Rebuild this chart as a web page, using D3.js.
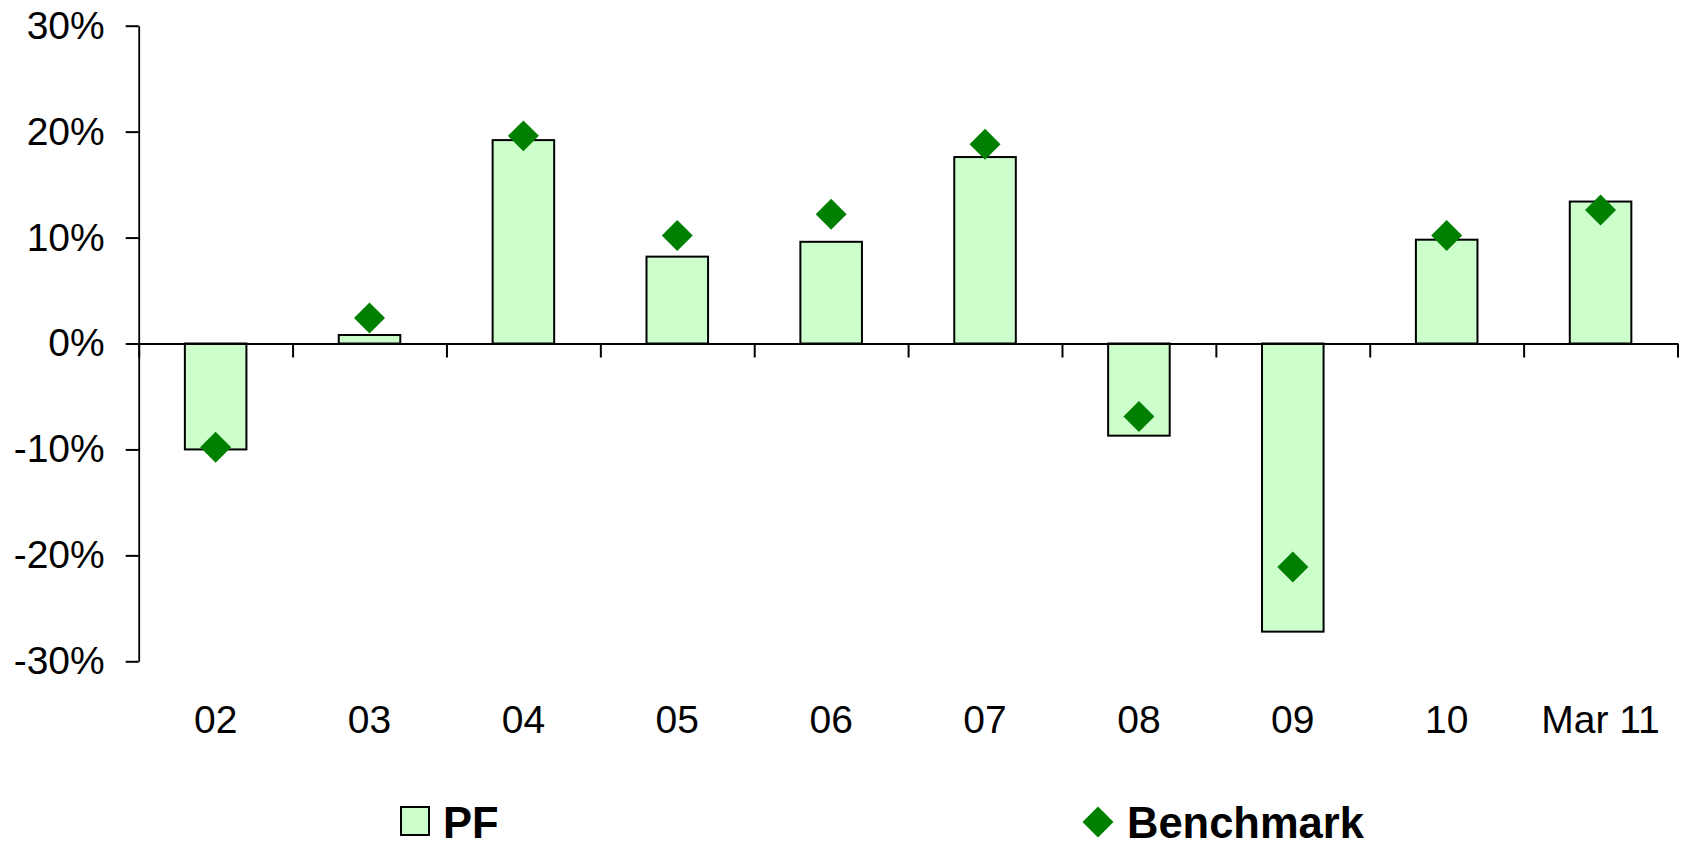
<!DOCTYPE html>
<meta charset="utf-8">
<script src="https://d3js.org/d3.v7.min.js"></script>
<style>
  body { margin: 0; background: #fff; }
  text { font-family: Arial, "Liberation Sans", sans-serif; fill: #000; }
</style>
<body>
<div id="chart"></div>
<script>
// data (percent)
var categories = ["02", "03", "04", "05", "06", "07", "08", "09", "10", "Mar 11"];
var pfValues = [-10.0, 0.8, 19.2, 8.2, 9.6, 17.6, -8.7, -27.2, 9.8, 13.4];
var benchValues = [-9.8, 2.4, 19.6, 10.2, 12.2, 18.8, -6.9, -21.1, 10.2, 12.6];
var yTicks = [-30, -20, -10, 0, 10, 20, 30];
var seriesNames = ["PF", "Benchmark"];

var W = 1685, H = 842;
// plot area edges (window.top is taken, so prefixed names)
var plotLeft = 138.7, plotRight = 1677.5, plotTop = 25.7, plotBottom = 661.3;

var svg = d3.select("#chart").append("svg")
  .attr("width", W).attr("height", H);

// scales
var x = d3.scaleBand().domain(categories).range([plotLeft, plotRight]).padding(0);
var y = d3.scaleLinear().domain([-30, 30]).range([plotBottom, plotTop]);
var barW = x.bandwidth() / 2.5;

// bars
svg.append("g")
  .selectAll("rect")
  .data(categories)
  .join("rect")
    .attr("x", d => x(d) + (x.bandwidth() - barW) / 2)
    .attr("y", (d, i) => y(Math.max(0, pfValues[i])))
    .attr("width", barW)
    .attr("height", (d, i) => Math.abs(y(pfValues[i]) - y(0)))
    .attr("fill", "#ccffcc")
    .attr("stroke", "#000")
    .attr("stroke-width", 2);

// y axis
var yAxis = svg.append("g")
  .attr("transform", "translate(" + plotLeft + ",0)")
  .call(d3.axisLeft(y).tickValues(yTicks).tickFormat(d => d + "%")
    .tickSize(13).tickSizeOuter(0).tickPadding(21));
yAxis.selectAll("text").style("font-size", "39px");
yAxis.selectAll("line").attr("stroke-width", 2);
yAxis.select(".domain").attr("stroke-width", 1.8);

// x axis line at zero with ticks at category boundaries
var bounds = categories.map(d => x(d)).concat([plotRight]);
var xLine = d3.scaleLinear().domain([plotLeft, plotRight]).range([plotLeft, plotRight]);
var xAxis = svg.append("g")
  .attr("transform", "translate(0," + y(0) + ")")
  .call(d3.axisBottom(xLine).tickValues(bounds).tickFormat("")
    .tickSize(14).tickSizeOuter(0));
xAxis.selectAll("line").attr("stroke-width", 2);
xAxis.select(".domain").attr("stroke-width", 2);

// category labels under the plot
var xLabels = svg.append("g")
  .attr("transform", "translate(0," + plotBottom + ")")
  .call(d3.axisBottom(x).tickSize(0).tickPadding(44));
xLabels.select(".domain").remove();
xLabels.selectAll("text").style("font-size", "39px");

// benchmark diamonds
var diamond = d3.symbol().type(d3.symbolSquare).size(480);
svg.append("g")
  .selectAll("path")
  .data(categories)
  .join("path")
    .attr("d", diamond)
    .attr("transform", (d, i) => "translate(" + (x(d) + x.bandwidth() / 2) + "," + y(benchValues[i]) + ") rotate(45)")
    .attr("fill", "#008000");

// legend
var legend = svg.append("g");
legend.append("rect")
  .attr("x", 401).attr("y", 807).attr("width", 28).attr("height", 28)
  .attr("fill", "#ccffcc").attr("stroke", "#000").attr("stroke-width", 2);
legend.append("text")
  .attr("x", 443).attr("y", 838)
  .style("font-size", "43.5px").style("font-weight", "bold")
  .text(seriesNames[0]);
legend.append("path")
  .attr("d", diamond)
  .attr("transform", "translate(1098,822) rotate(45)")
  .attr("fill", "#008000");
legend.append("text")
  .attr("x", 1127).attr("y", 838)
  .style("font-size", "43.5px").style("font-weight", "bold")
  .text(seriesNames[1]);
</script>
</body>
